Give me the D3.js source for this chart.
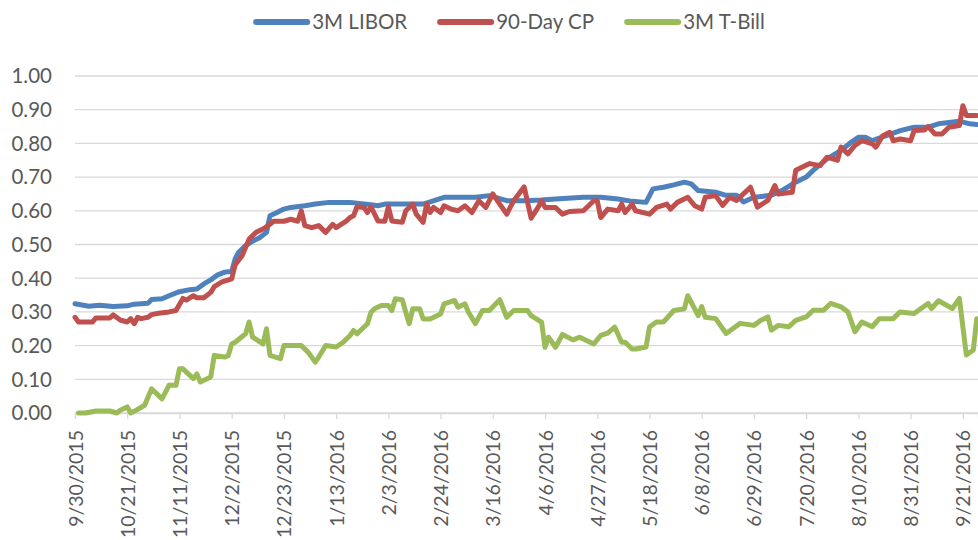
<!DOCTYPE html>
<html>
<head>
<meta charset="utf-8">
<script src="https://cdn.jsdelivr.net/npm/d3@7"></script>
<style>
  body { margin: 0; background: #fff; }
  svg { display: block; font-family: Lato, "Open Sans", sans-serif; }
</style>
</head>
<body>
<svg id="chart" width="978" height="540"></svg>
<script>
// Money market rates, daily (business-day index), 9/30/2015 - 9/2016

const seriesNames = ["3M LIBOR", "90-Day CP", "3M T-Bill"];
const seriesColors = ["#4F81BD", "#C0504D", "#9BBB59"];

// category labels, one every 15 business days
const tickLabels = ["9/30/2015", "10/21/2015", "11/11/2015", "12/2/2015", "12/23/2015",
  "1/13/2016", "2/3/2016", "2/24/2016", "3/16/2016", "4/6/2016", "4/27/2016",
  "5/18/2016", "6/8/2016", "6/29/2016", "7/20/2016", "8/10/2016", "8/31/2016", "9/21/2016"];
const yTicks = [0, 0.1, 0.2, 0.3, 0.4, 0.5, 0.6, 0.7, 0.8, 0.9, 1.0];

// [business day index, rate]
const libor = [
  [0, 0.324], [4, 0.317], [7, 0.32], [11, 0.316], [15, 0.318], [17, 0.323], [21, 0.326],
  [22, 0.337], [25, 0.339], [27, 0.348], [30, 0.36], [33, 0.366], [35, 0.368], [37, 0.383],
  [39, 0.395], [41, 0.41], [43, 0.418], [45, 0.42], [46, 0.457], [47, 0.477], [49, 0.497],
  [51, 0.51], [53, 0.52], [55, 0.536], [56, 0.585], [58, 0.595], [60, 0.605], [62, 0.61],
  [66, 0.615], [69, 0.62], [73, 0.625], [79, 0.625], [85, 0.618], [87, 0.615], [89, 0.62],
  [92, 0.62], [100, 0.62], [106, 0.64], [110, 0.64], [115, 0.64], [119, 0.645], [124, 0.63],
  [129, 0.63], [134, 0.632], [138, 0.635], [146, 0.64], [151, 0.64], [156, 0.635],
  [160, 0.628], [164, 0.625], [166, 0.665], [169, 0.67], [172, 0.677], [175, 0.685],
  [177, 0.68], [179, 0.66], [184, 0.655], [187, 0.646], [190, 0.646], [192, 0.626],
  [195, 0.64], [200, 0.646], [203, 0.66], [207, 0.685], [210, 0.70], [212, 0.72],
  [216, 0.754], [220, 0.779], [223, 0.804], [225, 0.818], [227, 0.818], [229, 0.808],
  [233, 0.823], [237, 0.838], [241, 0.848], [245, 0.848], [248, 0.858], [254, 0.866],
  [257, 0.858], [259, 0.856]
];

const cp = [
  [0, 0.284], [1, 0.27], [5, 0.27], [6, 0.282], [10, 0.282], [11, 0.291], [13, 0.276],
  [15, 0.27], [16, 0.28], [17, 0.265], [18, 0.284], [19, 0.28], [21, 0.284], [22, 0.292],
  [24, 0.296], [27, 0.3], [29, 0.304], [31, 0.34], [32, 0.335], [34, 0.348], [35, 0.342],
  [37, 0.342], [39, 0.358], [40, 0.375], [42, 0.388], [45, 0.398], [46, 0.44], [48, 0.467],
  [50, 0.516], [52, 0.536], [54, 0.546], [56, 0.56], [57, 0.569], [60, 0.569], [62, 0.575],
  [64, 0.569], [65, 0.6], [66, 0.556], [68, 0.55], [70, 0.556], [72, 0.536], [74, 0.56],
  [75, 0.55], [78, 0.57], [79, 0.58], [80, 0.585], [81, 0.612], [83, 0.61], [84, 0.595],
  [85, 0.612], [87, 0.57], [89, 0.569], [90, 0.612], [91, 0.57], [94, 0.566], [95, 0.6],
  [97, 0.62], [98, 0.59], [100, 0.566], [101, 0.62], [102, 0.595], [103, 0.61], [105, 0.595],
  [106, 0.615], [108, 0.605], [110, 0.6], [112, 0.615], [114, 0.595], [116, 0.63],
  [118, 0.61], [120, 0.65], [122, 0.62], [124, 0.59], [126, 0.63], [129, 0.671],
  [131, 0.578], [133, 0.61], [134, 0.63], [135, 0.61], [138, 0.61], [140, 0.59],
  [142, 0.598], [146, 0.6], [149, 0.63], [150, 0.63], [151, 0.58], [153, 0.605], [156, 0.6],
  [157, 0.62], [158, 0.595], [160, 0.62], [161, 0.6], [165, 0.59], [167, 0.61], [170, 0.62],
  [171, 0.605], [173, 0.625], [176, 0.64], [178, 0.615], [180, 0.605], [181, 0.64],
  [184, 0.645], [186, 0.616], [188, 0.64], [190, 0.631], [194, 0.67], [196, 0.611],
  [199, 0.631], [201, 0.675], [202, 0.65], [206, 0.655], [207, 0.72], [211, 0.74],
  [214, 0.734], [216, 0.759], [219, 0.75], [220, 0.789], [222, 0.769], [224, 0.794],
  [226, 0.808], [229, 0.799], [230, 0.789], [232, 0.823], [234, 0.833], [235, 0.808],
  [237, 0.813], [240, 0.808], [241, 0.838], [244, 0.84], [245, 0.85], [247, 0.828],
  [249, 0.828], [251, 0.848], [254, 0.853], [255, 0.912], [256, 0.883], [259, 0.883]
];

const tbill = [
  [1, 0.0], [3, 0.0], [6, 0.006], [10, 0.006], [12, 0.0], [13, 0.008], [15, 0.018],
  [16, 0.0], [17, 0.005], [20, 0.023], [22, 0.072], [25, 0.042], [27, 0.082], [29, 0.082],
  [30, 0.131], [31, 0.131], [34, 0.102], [35, 0.116], [36, 0.092], [39, 0.107], [40, 0.171],
  [43, 0.166], [44, 0.17], [45, 0.205], [46, 0.21], [49, 0.235], [50, 0.27], [51, 0.225],
  [54, 0.205], [55, 0.25], [56, 0.171], [59, 0.161], [60, 0.2], [65, 0.2], [67, 0.18],
  [69, 0.151], [70, 0.166], [72, 0.2], [75, 0.196], [77, 0.21], [79, 0.23], [80, 0.245],
  [81, 0.235], [84, 0.265], [85, 0.299], [86, 0.309], [88, 0.319], [90, 0.319], [91, 0.304],
  [92, 0.339], [94, 0.336], [95, 0.299], [96, 0.265], [97, 0.309], [99, 0.309], [100, 0.279],
  [102, 0.279], [105, 0.294], [106, 0.324], [109, 0.334], [110, 0.314], [112, 0.324],
  [113, 0.299], [115, 0.265], [117, 0.304], [119, 0.304], [122, 0.336], [124, 0.284],
  [126, 0.304], [130, 0.304], [131, 0.289], [134, 0.27], [135, 0.195], [136, 0.225],
  [138, 0.195], [140, 0.233], [143, 0.217], [145, 0.225], [149, 0.205], [151, 0.23],
  [153, 0.237], [155, 0.255], [157, 0.21], [158, 0.21], [160, 0.19], [161, 0.19],
  [164, 0.196], [165, 0.255], [167, 0.27], [169, 0.27], [172, 0.304], [175, 0.309],
  [176, 0.348], [179, 0.289], [180, 0.316], [181, 0.284], [184, 0.28], [187, 0.236],
  [189, 0.251], [191, 0.266], [195, 0.26], [197, 0.275], [199, 0.285], [200, 0.246],
  [202, 0.26], [205, 0.256], [207, 0.275], [210, 0.285], [212, 0.305], [215, 0.305],
  [217, 0.325], [220, 0.315], [222, 0.3], [224, 0.241], [226, 0.27], [229, 0.256],
  [231, 0.28], [235, 0.28], [237, 0.3], [241, 0.295], [245, 0.325], [246, 0.31],
  [248, 0.333], [252, 0.31], [254, 0.34], [256, 0.172], [258, 0.187], [259, 0.28]
];

const seriesData = [libor, cp, tbill];

const svg = d3.select("#chart");
const width = 978, height = 540;
const margin = { top: 76, right: 0, bottom: 127, left: 75 };
const textColor = "#595959";
const gridColor = "#D9D9D9";

const x = d3.scaleLinear().domain([0, 259.35]).range([margin.left, width - margin.right]);
const y = d3.scaleLinear().domain([0, 1]).range([height - margin.bottom, margin.top]);

// horizontal gridlines
svg.append("g")
  .selectAll("line")
  .data(yTicks)
  .join("line")
  .attr("x1", x.range()[0])
  .attr("x2", x.range()[1])
  .attr("y1", d => y(d))
  .attr("y2", d => y(d))
  .attr("stroke", gridColor)
  .attr("stroke-width", 1.3);

// y labels
svg.append("g")
  .selectAll("text")
  .data(yTicks)
  .join("text")
  .attr("x", 52)
  .attr("y", d => y(d))
  .attr("dy", "0.36em")
  .attr("text-anchor", "end")
  .style("font-size", "20.5px")
  .style("fill", textColor)
  .text(d => d.toFixed(2));

// x axis: tick marks and rotated labels every 15 points
const xAxis = d3.axisBottom(x)
  .tickValues(tickLabels.map((_, i) => i * 15))
  .tickSize(6)
  .tickFormat((d, i) => tickLabels[i]);

const gx = svg.append("g")
  .attr("transform", `translate(0,${y(0)})`)
  .call(xAxis);
gx.select(".domain").attr("stroke", gridColor).attr("stroke-width", 1.3);
gx.selectAll(".tick line").attr("stroke", gridColor).attr("stroke-width", 1.3);
gx.selectAll(".tick text")
  .attr("transform", "rotate(-90)")
  .attr("x", -17)
  .attr("y", 0)
  .attr("dy", "0.36em")
  .attr("text-anchor", "end")
  .style("font-family", "Lato, sans-serif")
  .style("font-size", "19.5px")
  .style("fill", textColor);

// lines
const line = d3.line()
  .x(d => x(d[0]))
  .y(d => y(d[1]));

svg.append("g")
  .selectAll("path")
  .data(seriesData)
  .join("path")
  .attr("d", line)
  .attr("fill", "none")
  .attr("stroke", (d, i) => seriesColors[i])
  .attr("stroke-width", 5)
  .attr("stroke-linejoin", "round")
  .attr("stroke-linecap", "round");

// legend, centred above plot
const legend = svg.append("g");
const itemGap = 30;
let lx = 0;
seriesNames.forEach((name, i) => {
  const item = legend.append("g").attr("transform", `translate(${lx},0)`);
  item.append("line")
    .attr("x1", 3).attr("x2", 54)
    .attr("y1", 0).attr("y2", 0)
    .attr("stroke", seriesColors[i])
    .attr("stroke-width", 6)
    .attr("stroke-linecap", "round");
  const t = item.append("text")
    .attr("x", 59)
    .attr("dy", "0.36em")
    .style("font-size", "20.5px")
    .style("fill", textColor)
    .text(name);
  lx += 59 + t.node().getComputedTextLength() + itemGap;
});
legend.attr("transform", `translate(${509 - (lx - itemGap) / 2},22)`);
</script>
</body>
</html>
